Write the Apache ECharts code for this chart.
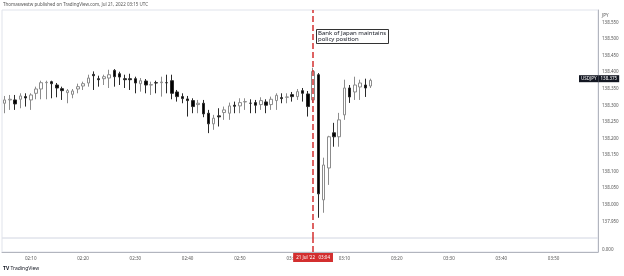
<!DOCTYPE html>
<html>
<head>
<meta charset="utf-8">
<script src="https://cdn.jsdelivr.net/npm/echarts@6/dist/echarts.min.js"></script>
<style>
  html, body { margin: 0; padding: 0; background: #fff; }
  #chart { width: 624px; height: 276px; }
</style>
</head>
<body>
<div id="chart"></div>
<script>
// USDJPY 1 minute candles, 21 Jul 2022, 02:05 -> 03:15 UTC
const firstMinute = 2 * 60 + 5
const lastMinute = 3 * 60 + 58

const opens = [
  138.306, 138.316, 138.316, 138.318, 138.326, 138.316, 138.336, 138.349, 138.368, 138.371,
  138.361, 138.350, 138.338, 138.333, 138.349, 138.358, 138.367, 138.393, 138.380, 138.380,
  138.382, 138.405, 138.395, 138.380, 138.380, 138.380, 138.365, 138.373, 138.361, 138.368,
  138.368, 138.368, 138.374, 138.340, 138.326, 138.319, 138.314, 138.302, 138.306, 138.276,
  138.244, 138.268, 138.278, 138.276, 138.300, 138.298, 138.310, 138.306, 138.308, 138.302,
  138.310, 138.302, 138.314, 138.323, 138.324, 138.332, 138.326, 138.344, 138.334, 138.316,
  138.392, 138.015, 138.111, 138.217, 138.205, 138.271, 138.352, 138.340, 138.355, 138.361,
  138.358
]
const closes = [
  138.316, 138.318, 138.304, 138.328, 138.322, 138.331, 138.349, 138.368, 138.369, 138.365,
  138.352, 138.344, 138.344, 138.343, 138.356, 138.365, 138.382, 138.389, 138.377, 138.386,
  138.392, 138.386, 138.385, 138.377, 138.377, 138.367, 138.374, 138.361, 138.362, 138.367,
  138.370, 138.368, 138.336, 138.326, 138.320, 138.314, 138.296, 138.306, 138.274, 138.244,
  138.261, 138.265, 138.286, 138.298, 138.297, 138.308, 138.311, 138.306, 138.300, 138.314,
  138.300, 138.318, 138.330, 138.320, 138.325, 138.326, 138.341, 138.336, 138.296, 138.402,
  138.033, 138.120, 138.205, 138.205, 138.256, 138.352, 138.325, 138.361, 138.367, 138.352,
  138.375
]
const lows = [
  138.276, 138.286, 138.286, 138.291, 138.296, 138.286, 138.318, 138.318, 138.318, 138.321,
  138.324, 138.316, 138.306, 138.321, 138.336, 138.346, 138.356, 138.346, 138.356, 138.361,
  138.352, 138.356, 138.361, 138.352, 138.346, 138.336, 138.341, 138.336, 138.331, 138.336,
  138.326, 138.336, 138.318, 138.311, 138.306, 138.266, 138.276, 138.276, 138.264, 138.216,
  138.226, 138.236, 138.256, 138.256, 138.276, 138.276, 138.286, 138.276, 138.276, 138.286,
  138.276, 138.286, 138.286, 138.306, 138.306, 138.311, 138.316, 138.311, 138.266, 138.307,
  137.961, 137.976, 138.060, 138.175, 138.175, 138.256, 138.307, 138.316, 138.316, 138.325,
  138.352
]
const highs = [
  138.328, 138.331, 138.331, 138.336, 138.336, 138.336, 138.356, 138.374, 138.374, 138.374,
  138.367, 138.356, 138.349, 138.349, 138.365, 138.371, 138.392, 138.402, 138.389, 138.392,
  138.407, 138.409, 138.401, 138.392, 138.395, 138.386, 138.382, 138.379, 138.371, 138.374,
  138.386, 138.392, 138.392, 138.346, 138.336, 138.328, 138.321, 138.316, 138.316, 138.286,
  138.271, 138.291, 138.296, 138.308, 138.311, 138.321, 138.321, 138.318, 138.316, 138.324,
  138.318, 138.326, 138.336, 138.336, 138.336, 138.340, 138.349, 138.352, 138.343, 138.413,
  138.397, 138.142, 138.208, 138.247, 138.277, 138.377, 138.361, 138.386, 138.377, 138.380,
  138.380
]
// no volume on fx
const volumes = opens.map(() => 0)

const eventTime = '03:04'
const eventLabel = "21 Jul '22   03:04"
const lastPrice = 138.375
const symbolName = 'USDJPY'

const pad = n => (n < 10 ? '0' : '') + n
const times = []
for (let m = firstMinute; m <= lastMinute; m++) {
  times.push(pad(Math.floor(m / 60)) + ':' + pad(m % 60))
}
const candles = opens.map((o, i) => [o, closes[i], lows[i], highs[i]])

const red = '#d32f2f'
const axisColor = '#b2b5be'
const textColor = '#555'
const font = 'Noto Sans'

const chart = echarts.init(document.getElementById('chart'))
chart.setOption({
  animation: false,
  textStyle: { fontFamily: font },
  title: [
    {
      text: 'Thomaswestw published on TradingView.com, Jul 21, 2022 03:15 UTC',
      left: 3,
      top: 2,
      padding: 0,
      textStyle: { fontSize: 4.5, color: textColor, fontWeight: 'normal', fontFamily: font }
    },
    {
      text: 'Bank of Japan maintains\npolicy position',
      left: 316,
      top: 29,
      padding: [1, 3, 1, 2],
      borderColor: '#333',
      borderWidth: 1,
      backgroundColor: '#fff',
      textStyle: { fontSize: 6, lineHeight: 6.5, color: '#131722', fontWeight: 'normal', fontFamily: font }
    },
    {
      text: '{logo|TV} TradingView',
      left: 3,
      top: 266,
      padding: 0,
      textStyle: {
        fontSize: 5,
        color: '#131722',
        fontWeight: 'normal',
        fontFamily: font,
        rich: { logo: { fontSize: 5, fontWeight: 'bold', color: '#131722' } }
      }
    }
  ],
  grid: [
    { left: 2, right: 26, top: 10, height: 228, show: true, borderColor: '#e0e3eb', borderWidth: 1 },
    { left: 2, right: 26, top: 238, height: 14, show: true, borderColor: '#e0e3eb', borderWidth: 1 }
  ],
  xAxis: [
    {
      type: 'category',
      gridIndex: 0,
      data: times,
      boundaryGap: true,
      axisLine: { show: false },
      axisTick: { show: false },
      axisLabel: { show: false },
      splitLine: { show: false }
    },
    {
      type: 'category',
      gridIndex: 1,
      data: times,
      boundaryGap: true,
      axisLine: { lineStyle: { color: axisColor } },
      axisTick: { show: false },
      splitLine: { show: false },
      axisLabel: {
        interval: (i, v) => v.slice(-1) === '0',
        fontSize: 4.5,
        color: textColor,
        margin: 4
      }
    }
  ],
  yAxis: [
    {
      type: 'value',
      gridIndex: 0,
      position: 'right',
      min: 137.9,
      max: 138.587,
      interval: 0.05,
      name: 'JPY',
      nameLocation: 'end',
      nameGap: -8,
      nameTextStyle: { fontSize: 4.5, color: textColor, align: 'left', padding: [0, 0, 0, 4] },
      axisLine: { show: true, lineStyle: { color: axisColor } },
      axisTick: { show: false },
      splitLine: { show: false },
      axisLabel: {
        fontSize: 4.5,
        color: textColor,
        margin: 4,
        showMinLabel: false,
        showMaxLabel: false,
        formatter: v => v.toFixed(3)
      }
    },
    {
      type: 'value',
      gridIndex: 1,
      position: 'right',
      min: 0,
      max: 1,
      interval: 1,
      axisLine: { show: true, lineStyle: { color: axisColor } },
      axisTick: { show: false },
      splitLine: { show: false },
      axisLabel: {
        fontSize: 4.5,
        color: textColor,
        margin: 4,
        verticalAlign: 'bottom',
        formatter: v => (v === 0 ? '0.000' : '')
      }
    }
  ],
  series: [
    {
      name: symbolName,
      type: 'candlestick',
      xAxisIndex: 0,
      yAxisIndex: 0,
      data: candles,
      barWidth: 3,
      itemStyle: {
        color: '#ffffff',
        color0: '#000000',
        borderColor: '#8c8c8c',
        borderColor0: '#2a2a2a',
        borderWidth: 1
      },
      markLine: {
        silent: true,
        symbol: ['none', 'none'],
        animation: false,
        data: [
          {
            xAxis: eventTime,
            lineStyle: { color: red, type: [6, 3], width: 1.5 },
            label: { show: false }
          },
          {
            yAxis: lastPrice,
            lineStyle: { color: 'rgba(0,0,0,0)', width: 1 },
            label: {
              show: true,
              position: 'end',
              distance: 1,
              offset: [-20, 0],
              color: '#fff',
              formatter: '{a|' + symbolName + '}{b|' + lastPrice.toFixed(3) + '}',
              rich: {
                a: { backgroundColor: '#131722', color: '#fff', fontSize: 4.5, padding: [1, 2], fontFamily: font },
                b: { backgroundColor: '#131722', color: '#fff', fontSize: 4.5, padding: [1, 2], fontFamily: font }
              }
            }
          }
        ]
      }
    },
    {
      name: 'Volume',
      type: 'bar',
      xAxisIndex: 1,
      yAxisIndex: 1,
      data: volumes,
      barWidth: 3,
      itemStyle: { color: '#999' },
      markLine: {
        silent: true,
        symbol: ['none', 'none'],
        animation: false,
        lineStyle: { color: red, type: [6, 3], width: 1.5 },
        label: {
          show: true,
          position: 'start',
          distance: 1,
          formatter: eventLabel,
          backgroundColor: red,
          color: '#fff',
          fontSize: 4.5,
          padding: [2, 3],
          fontFamily: font
        },
        data: [{ xAxis: eventTime }]
      }
    }
  ]
})
</script>
</body>
</html>
